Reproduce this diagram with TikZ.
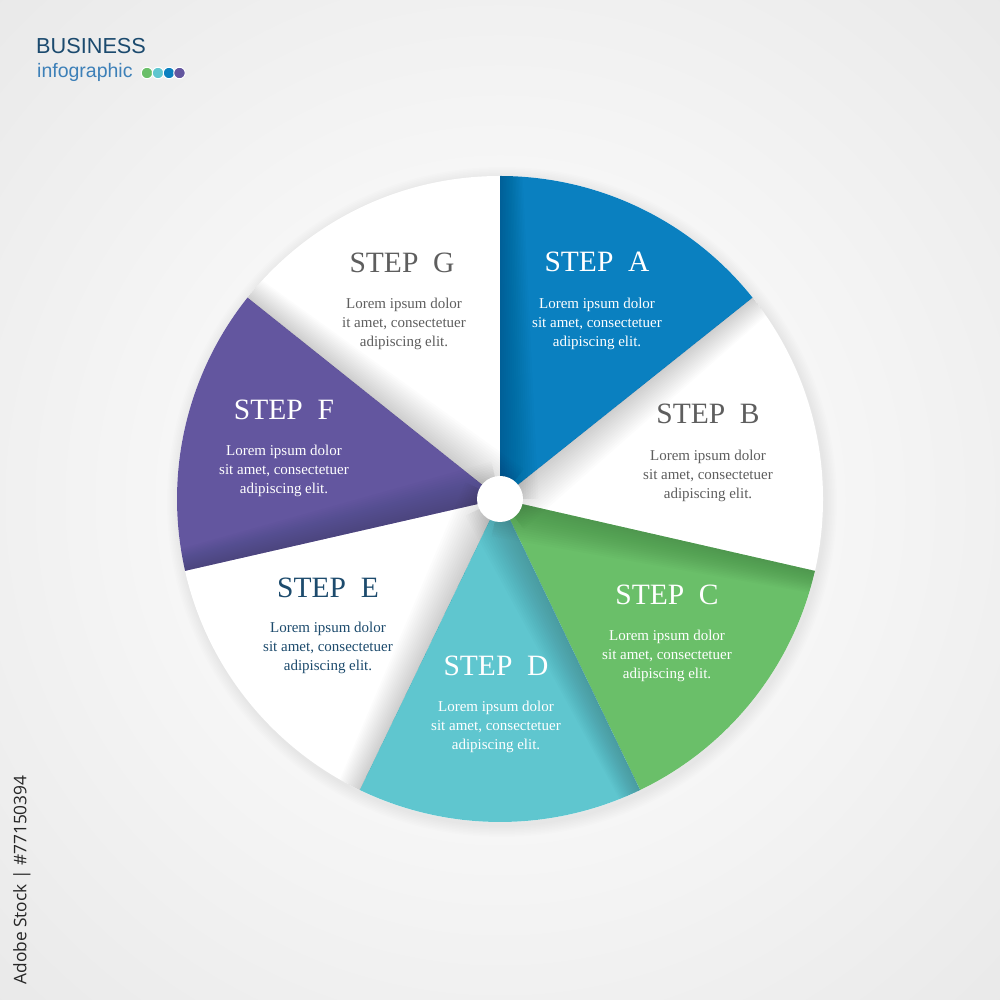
\documentclass[tikz,border=0pt]{standalone}
\usepackage{fontspec}
\setmainfont{Liberation Serif}
\newfontfamily\arialf{Liberation Sans}
\newfontfamily\opensf{Open Sans}
\usetikzlibrary{calc}
\definecolor{cA}{HTML}{0A80C0}
\definecolor{cC}{HTML}{6ABF69}
\definecolor{cD}{HTML}{5FC6CF}
\definecolor{cF}{HTML}{63569F}
\definecolor{grayT}{HTML}{5E5E5E}
\definecolor{navyT}{HTML}{1D4B6D}
\definecolor{bizblue}{HTML}{1B4A6E}
\definecolor{infblue}{HTML}{3D80B8}
\definecolor{bgA}{HTML}{F9F9F9}
\definecolor{bgB}{HTML}{E3E3E3}
\definecolor{bgC}{HTML}{D3D3D3}
\definecolor{stockT}{HTML}{262626}
\pgfdeclareradialshading{bgshade}{\pgfpoint{0bp}{0bp}}{color(0bp)=(white); color(12bp)=(bgA); color(45bp)=(bgB); color(71bp)=(bgC)}
\tikzset{
  steptitle/.style={font=\fontsize{29.5}{30}\selectfont, inner sep=0pt},
  lorem/.style={font=\fontsize{15}{18.6}\selectfont, align=center, inner sep=0pt},
  sector/.style={draw=none},
  dot/.style={draw=white, line width=1pt, circle, minimum size=11.5pt, inner sep=0pt}
}
\begin{document}
\begin{tikzpicture}[x=1pt,y=1pt]
\useasboundingbox (0,0) rectangle (1000,1000);
\shade[shading=bgshade] (0,0) rectangle (1000,1000);
\coordinate (C) at (500,501);
\def\R{323}
% soft outer shadow of the pie
\foreach \i in {1,...,8}
  \fill[black, opacity=0.006] ($(C)+(2,-3)$) circle (\R+\i*1.5);
\fill[white] (C) circle (\R);
% coloured sectors
\fill[cA, sector] (C) -- ++(90:\R) arc[start angle=90, end angle=38.571, radius=\R] -- cycle;
\fill[cC, sector] (C) -- ++(-12.857:\R) arc[start angle=-12.857, end angle=-64.286, radius=\R] -- cycle;
\fill[cD, sector] (C) -- ++(-64.286:\R) arc[start angle=-64.286, end angle=-115.714, radius=\R] -- cycle;
\fill[cF, sector] (C) -- ++(-167.143:\R) arc[start angle=-167.143, end angle=-218.571, radius=\R] -- cycle;
% shadows cast on the clockwise neighbour
\foreach \t in {90,38.571,-12.857,-64.286,-115.714,-167.143,-218.571}{
  \begin{scope}[shift={(C)}, rotate=\t]
    \clip (0,0) circle (\R);
    \foreach \k in {1,...,16}
      \fill[black, opacity=0.012] (0,0) -- (\R+5,0) -- (\R+5,-\k*1.4) -- (0,-\k*2.4) -- cycle;
  \end{scope}
}
% centre hole
\fill[white] (C) circle (23);
% texts
\node[steptitle, text=white] (tA) at (597,738) {STEP\ \ A};
\node[lorem, text=white] (lA) at (597,676) {Lorem ipsum dolor\\sit amet, consectetuer\\adipiscing elit.};
\node[steptitle, text=grayT] (tB) at (708,586) {STEP\ \ B};
\node[lorem, text=grayT] (lB) at (708,524) {Lorem ipsum dolor\\sit amet, consectetuer\\adipiscing elit.};
\node[steptitle, text=white] (tC) at (667,405) {STEP\ \ C};
\node[lorem, text=white] (lC) at (667,344) {Lorem ipsum dolor\\sit amet, consectetuer\\adipiscing elit.};
\node[steptitle, text=white] (tD) at (496,334) {STEP\ \ D};
\node[lorem, text=white] (lD) at (496,273) {Lorem ipsum dolor\\sit amet, consectetuer\\adipiscing elit.};
\node[steptitle, text=navyT] (tE) at (328,412) {STEP\ \ E};
\node[lorem, text=navyT] (lE) at (328,352) {Lorem ipsum dolor\\sit amet, consectetuer\\adipiscing elit.};
\node[steptitle, text=white] (tF) at (284,590) {STEP\ \ F};
\node[lorem, text=white] (lF) at (284,529) {Lorem ipsum dolor\\sit amet, consectetuer\\adipiscing elit.};
\node[steptitle, text=grayT] (tG) at (402,737) {STEP\ \ G};
\node[lorem, text=grayT] (lG) at (404,676) {Lorem ipsum dolor\\it amet, consectetuer\\adipiscing elit.};
% heading
\node[anchor=base west, inner sep=0pt, font=\arialf\fontsize{21.7}{21.7}\selectfont, text=bizblue] (biz) at (36,946) {BUSINESS};
\node[anchor=base west, inner sep=0pt, font=\arialf\fontsize{19.5}{19.5}\selectfont, text=infblue] (info) at (37,922) {infographic};
\node[dot, fill=cC] (d1) at (147,927) {};
\node[dot, fill=cD] (d2) at (158,927) {};
\node[dot, fill=cA] (d3) at (169,927) {};
\node[dot, fill=cF] (d4) at (179.5,927) {};
% stock label
\node[rotate=90, inner sep=0pt, font=\opensf\fontsize{17.3}{17.3}\selectfont, text=stockT] (stock) at (22,120) {Adobe Stock | \#77150394};
\end{tikzpicture}
\end{document}
